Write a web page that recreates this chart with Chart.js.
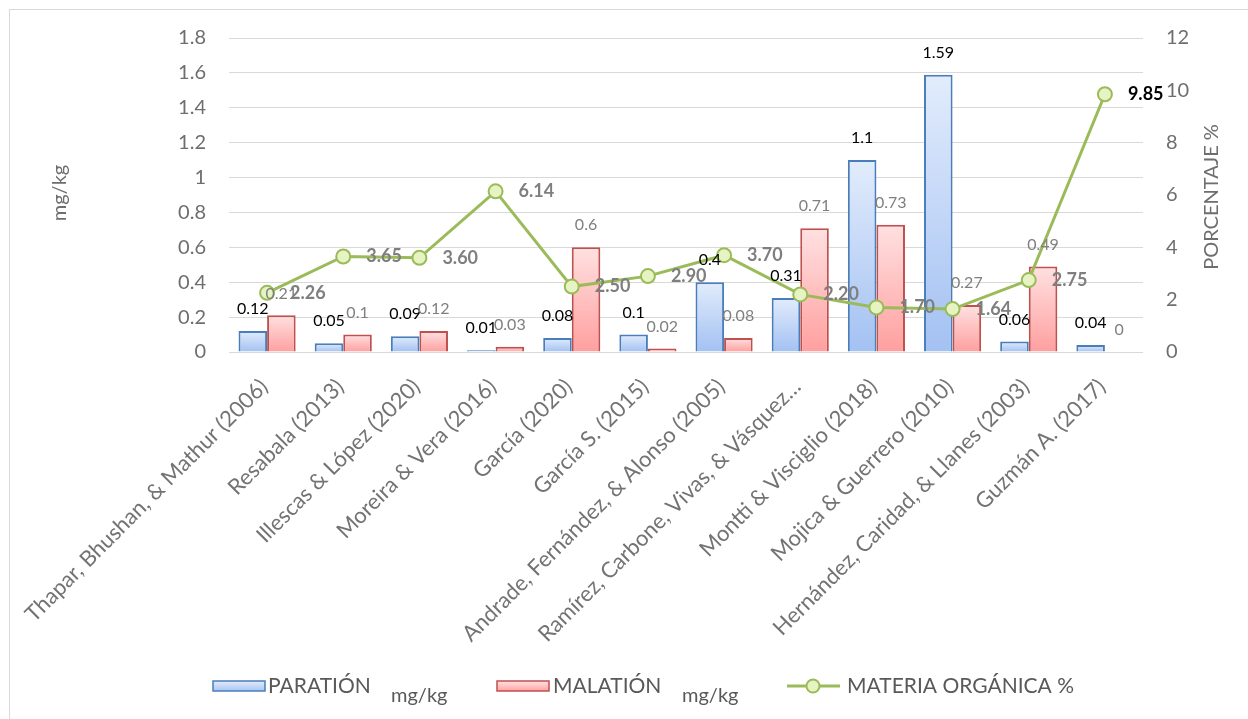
<!DOCTYPE html>
<html>
<head>
<meta charset="utf-8">
<script src="https://cdn.jsdelivr.net/npm/chart.js@4/dist/chart.umd.min.js"></script>
<style>
  html, body { margin: 0; padding: 0; background: #ffffff; }
  #wrap { width: 1248px; height: 719px; position: relative; }
</style>
</head>
<body>
<div id="wrap"><canvas id="c" width="1248" height="719"></canvas></div>
<script>
// Studies (categories)
const categories = [
  'Thapar, Bhushan, & Mathur (2006)',
  'Resabala (2013)',
  'Illescas & López (2020)',
  'Moreira & Vera (2016)',
  'García (2020)',
  'García S. (2015)',
  'Andrade, Fernández, & Alonso (2005)',
  'Ramírez, Carbone, Vivas, & Vásquez…',
  'Montti & Visciglio (2018)',
  'Mojica & Guerrero (2010)',
  'Hernández, Caridad, & Llanes (2003)',
  'Guzmán A. (2017)'
];

// Residues in mg/kg
const paration = [0.12, 0.05, 0.09, 0.01, 0.08, 0.1, 0.4, 0.31, 1.1, 1.59, 0.06, 0.04];
const malation = [0.21, 0.1, 0.12, 0.03, 0.6, 0.02, 0.08, 0.71, 0.73, 0.27, 0.49, 0];

// Organic matter, percent
const materiaOrganica = [2.26, 3.65, 3.60, 6.14, 2.50, 2.90, 3.70, 2.20, 1.70, 1.64, 2.75, 9.85];

// Axis tick labels
const leftTicks = ['0', '0.2', '0.4', '0.6', '0.8', '1', '1.2', '1.4', '1.6', '1.8'];
const rightTicks = ['0', '2', '4', '6', '8', '10', '12'];

const FONT = 'Lato, "Open Sans", sans-serif';
const GREY = '#6e6e6e';

function barGradient(light, dark, fallback) {
  return (ctx) => {
    const chart = ctx.chart;
    if (!chart.chartArea || ctx.type !== 'data') return fallback;
    const y = chart.scales.y;
    const top = y.getPixelForValue(ctx.raw);
    const base = y.getPixelForValue(0);
    if (Math.abs(base - top) < 1) return fallback;
    const g = chart.ctx.createLinearGradient(0, top, 0, base);
    g.addColorStop(0, light);
    g.addColorStop(1, dark);
    return g;
  };
}

// Frame, category labels, axis titles, value labels and legend
const decorations = {
  id: 'decorations',
  beforeDraw(chart) {
    const c = chart.ctx;
    c.save();
    c.fillStyle = '#ffffff';
    c.fillRect(0, 0, chart.width, chart.height);
    c.strokeStyle = '#d9d9d9';
    c.lineWidth = 1;
    c.strokeRect(9.5, 9.5, chart.width, chart.height);
    c.restore();
  },
  afterDatasetsDraw(chart) {
    const c = chart.ctx;
    c.save();

    // category labels, slanted 45°
    const xs = chart.scales.x;
    const labelTop = chart.chartArea.bottom + 31;
    c.fillStyle = '#737373';
    c.font = '22px ' + FONT;
    c.textAlign = 'right';
    c.textBaseline = 'middle';
    categories.forEach((name, i) => {
      c.save();
      c.translate(xs.getPixelForTick(i) - 3, labelTop);
      c.rotate(-Math.PI / 4);
      c.fillText(name, 0, 0);
      c.restore();
    });

    // axis titles
    c.fillStyle = GREY;
    c.font = '20px ' + FONT;
    c.textAlign = 'center';
    c.textBaseline = 'middle';
    c.save(); c.translate(60, 193); c.rotate(-Math.PI / 2); c.fillText('mg/kg', 0, 0); c.restore();
    c.save(); c.translate(1212, 197); c.rotate(-Math.PI / 2); c.fillText('PORCENTAJE %', 0, 0); c.restore();

    // bar value labels
    c.font = '16px ' + FONT;
    const metaP = chart.getDatasetMeta(0);
    const metaM = chart.getDatasetMeta(1);
    metaP.data.forEach((bar, i) => {
      c.fillStyle = '#000000';
      c.fillText(String(paration[i]), bar.x, bar.y - 22);
    });
    metaM.data.forEach((bar, i) => {
      c.fillStyle = '#7f7f7f';
      c.fillText(String(malation[i]), bar.x, bar.y - 22);
    });

    // line value labels
    const metaL = chart.getDatasetMeta(2);
    c.textAlign = 'left';
    c.font = 'bold 18px ' + FONT;
    const peak = Math.max(...materiaOrganica);
    metaL.data.forEach((pt, i) => {
      const v = materiaOrganica[i];
      c.fillStyle = v === peak ? '#000000' : '#7f7f7f';
      c.fillText(v.toFixed(2), pt.x + 23, pt.y);
    });

    // legend
    const ly = 686;
    const boxes = [
      { x: 213, w: 52, light: '#e2ecfc', dark: '#a9c5f3', border: '#4a7ebb', label: 'PARATIÓN', lx: 268, unitX: 391 },
      { x: 497, w: 52, light: '#ffe3e3', dark: '#ffa3a3', border: '#c0504d', label: 'MALATIÓN', lx: 553, unitX: 682 }
    ];
    c.textBaseline = 'middle';
    boxes.forEach(b => {
      const g = c.createLinearGradient(0, ly - 5, 0, ly + 5);
      g.addColorStop(0, b.light);
      g.addColorStop(1, b.dark);
      c.fillStyle = g;
      c.fillRect(b.x, ly - 5, b.w, 10);
      c.strokeStyle = b.border;
      c.lineWidth = 1.5;
      c.strokeRect(b.x, ly - 5, b.w, 10);
      c.fillStyle = '#595959';
      c.font = '21px ' + FONT;
      c.fillText(b.label, b.lx, ly);
      c.font = '20px ' + FONT;
      c.fillText('mg/kg', b.unitX, ly + 10);
    });
    c.strokeStyle = '#9bbb59';
    c.lineWidth = 3;
    c.beginPath(); c.moveTo(787, ly); c.lineTo(840, ly); c.stroke();
    c.beginPath(); c.arc(813, ly, 6.5, 0, Math.PI * 2);
    c.fillStyle = '#e6f3c3'; c.fill();
    c.lineWidth = 2; c.stroke();
    c.fillStyle = '#595959';
    c.font = '21px ' + FONT;
    c.fillText('MATERIA ORGÁNICA %', 847, ly);
    c.restore();
  }
};

new Chart(document.getElementById('c'), {
  data: {
    labels: categories,
    datasets: [
      {
        type: 'bar',
        label: 'PARATIÓN mg/kg',
        data: paration,
        yAxisID: 'y',
        order: 2,
        backgroundColor: barGradient('#e2ecfc', '#a3c1f2', '#c5d9f8'),
        borderColor: '#4a7ebb',
        borderWidth: 2,
        categoryPercentage: 0.75,
        barPercentage: 1
      },
      {
        type: 'bar',
        label: 'MALATIÓN mg/kg',
        data: malation,
        yAxisID: 'y',
        order: 2,
        backgroundColor: barGradient('#ffe1e1', '#ff9f9f', '#ffc4c4'),
        borderColor: '#c0504d',
        borderWidth: 2,
        categoryPercentage: 0.75,
        barPercentage: 1
      },
      {
        type: 'line',
        label: 'MATERIA ORGÁNICA %',
        data: materiaOrganica,
        yAxisID: 'y1',
        order: 0,
        borderColor: '#9bbb59',
        borderWidth: 3,
        pointRadius: 7,
        pointBackgroundColor: '#e6f3c3',
        pointBorderColor: '#9bbb59',
        pointBorderWidth: 2,
        tension: 0
      }
    ]
  },
  options: {
    responsive: false,
    animation: false,
    devicePixelRatio: 1,
    layout: { padding: { top: 38, left: 0, right: 0, bottom: 0 } },
    plugins: {
      legend: { display: false },
      tooltip: { enabled: false }
    },
    scales: {
      x: {
        grid: { display: false, drawTicks: false },
        border: { display: false },
        ticks: { display: false, autoSkip: false },
        afterFit(s) { s.height = 719 - 352; }
      },
      y: {
        position: 'left',
        min: 0,
        max: 1.8,
        grid: { color: '#d9d9d9', lineWidth: 1, drawTicks: false },
        border: { display: false },
        ticks: {
          stepSize: 0.2,
          color: GREY,
          font: { family: FONT, size: 20 },
          padding: 23,
          callback: (v, i) => leftTicks[i]
        },
        afterFit(s) { s.width = 229; }
      },
      y1: {
        position: 'right',
        min: 0,
        max: 12,
        grid: { display: false, drawTicks: false },
        border: { display: false },
        ticks: {
          stepSize: 2,
          color: GREY,
          font: { family: FONT, size: 20 },
          padding: 23,
          callback: (v, i) => rightTicks[i]
        },
        afterFit(s) { s.width = 1248 - 1143; }
      }
    }
  },
  plugins: [decorations]
});
</script>
</body>
</html>
